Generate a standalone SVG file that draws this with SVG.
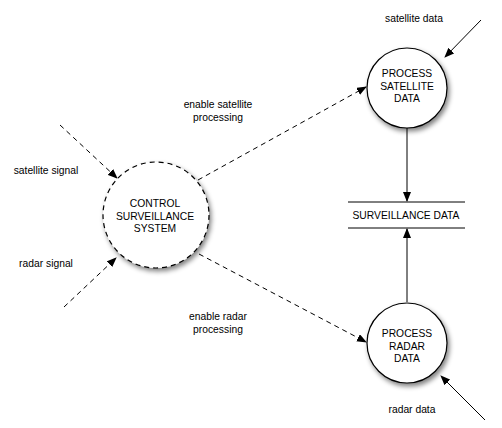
<svg xmlns="http://www.w3.org/2000/svg" width="502" height="428" viewBox="0 0 502 428">
<style>
text{font-family:"Liberation Sans",Arial,sans-serif;font-size:10.3px;fill:#000;text-anchor:middle}
.node{fill:#fff;stroke:#000;stroke-width:1.2;filter:url(#sh)}
.dash{stroke-dasharray:5,4}
.conn{fill:none;stroke:#000;stroke-width:1}
</style>
<defs>
<filter id="sh" x="-30%" y="-30%" width="160%" height="160%">
<feGaussianBlur in="SourceAlpha" stdDeviation="2.5"/>
<feOffset dx="2" dy="3" result="b"/>
<feComponentTransfer><feFuncA type="linear" slope="0.5"/></feComponentTransfer>
<feMerge><feMergeNode/><feMergeNode in="SourceGraphic"/></feMerge>
</filter>
<marker id="ah" markerWidth="10" markerHeight="8" refX="9" refY="4" orient="auto" markerUnits="userSpaceOnUse">
<path d="M0,0 L10,4 L0,8 Z" fill="#000"/>
</marker>
</defs>
<rect width="502" height="428" fill="#fff"/>
<g id="connectors">
<path class="conn dash" d="M60,125 L117,178" marker-end="url(#ah)"/>
<path class="conn dash" d="M64,307 L116,258" marker-end="url(#ah)"/>
<path class="conn dash" d="M198,180 L366,87" marker-end="url(#ah)"/>
<path class="conn dash" d="M199,254 L366,342" marker-end="url(#ah)"/>
<path class="conn" d="M481,20 L445,57" marker-end="url(#ah)"/>
<path class="conn" d="M485,420 L441,376" marker-end="url(#ah)"/>
<path class="conn" d="M407,128 L407,201" marker-end="url(#ah)"/>
<path class="conn" d="M407,302 L407,229" marker-end="url(#ah)"/>
<text x="46" y="174">satellite signal</text>
<text x="46" y="267">radar signal</text>
<text x="218" y="108">enable satellite</text>
<text x="218" y="121">processing</text>
<text x="218" y="320">enable radar</text>
<text x="218" y="333">processing</text>
<text x="414" y="22">satellite data</text>
<text x="412" y="413">radar data</text>
</g>
<g id="control">
<circle class="node dash" cx="156" cy="215" r="53"/>
<text x="155" y="207">CONTROL</text>
<text x="155" y="219.5">SURVEILLANCE</text>
<text x="155" y="232">SYSTEM</text>
</g>
<g id="process-satellite">
<circle class="node" cx="407" cy="88" r="40"/>
<text x="407" y="77">PROCESS</text>
<text x="407" y="89.5">SATELLITE</text>
<text x="407" y="102">DATA</text>
</g>
<g id="process-radar">
<circle class="node" cx="407" cy="343" r="40"/>
<text x="407" y="337">PROCESS</text>
<text x="407" y="349.5">RADAR</text>
<text x="407" y="362">DATA</text>
</g>
<g id="surveillance-data">
<line x1="348" y1="202" x2="465" y2="202" stroke="#000" stroke-width="1"/>
<line x1="348" y1="228" x2="465" y2="228" stroke="#000" stroke-width="1"/>
<text x="406" y="219">SURVEILLANCE DATA</text>
</g>
</svg>
